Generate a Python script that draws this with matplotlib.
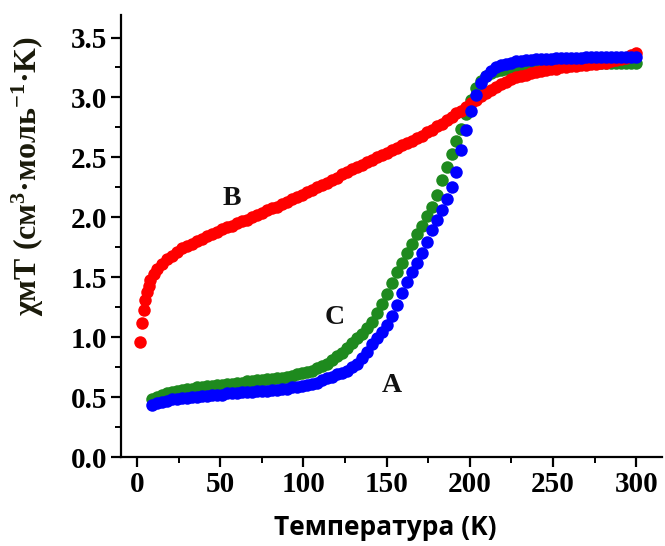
import matplotlib
matplotlib.use("Agg")
import matplotlib.pyplot as plt
from matplotlib.ticker import MultipleLocator

# temperature grid shared by curves A and C (K)
temp_ac = [9, 12, 15, 18, 21, 24, 27, 30, 33, 36, 39, 42, 45, 48, 51, 54, 57, 60,
           63, 66, 69, 72, 75, 78, 81, 84, 87, 90, 93, 96, 99, 102, 105, 108, 111,
           114, 117, 120, 123, 126, 129, 132, 135, 138, 141, 144, 147, 150, 153,
           156, 159, 162, 165, 168, 171, 174, 177, 180, 183, 186, 189, 192, 195,
           198, 201, 204, 207, 210, 213, 216, 219, 222, 225, 228, 231, 234, 237,
           240, 243, 246, 249, 252, 255, 258, 261, 264, 267, 270, 273, 276, 279,
           282, 285, 288, 291, 294, 297, 300]

chi_a = [0.43, 0.45, 0.46, 0.47, 0.48, 0.48, 0.49, 0.49, 0.50, 0.50, 0.51, 0.51,
         0.52, 0.52, 0.52, 0.53, 0.53, 0.53, 0.54, 0.54, 0.54, 0.55, 0.55, 0.55,
         0.56, 0.56, 0.57, 0.57, 0.58, 0.58, 0.59, 0.60, 0.61, 0.62, 0.64, 0.66,
         0.67, 0.69, 0.70, 0.72, 0.75, 0.78, 0.83, 0.88, 0.94, 0.99, 1.04, 1.10,
         1.18, 1.27, 1.37, 1.46, 1.54, 1.62, 1.70, 1.79, 1.89, 1.98, 2.06, 2.15,
         2.25, 2.38, 2.56, 2.73, 2.89, 3.02, 3.12, 3.18, 3.22, 3.25, 3.27, 3.28,
         3.29, 3.30, 3.30, 3.31, 3.31, 3.32, 3.32, 3.32, 3.32, 3.33, 3.33, 3.33,
         3.33, 3.33, 3.33, 3.34, 3.34, 3.34, 3.34, 3.34, 3.34, 3.34, 3.34, 3.34,
         3.34, 3.34]

chi_c = [0.48, 0.50, 0.52, 0.53, 0.54, 0.55, 0.56, 0.57, 0.57, 0.58, 0.58, 0.59,
         0.59, 0.60, 0.60, 0.61, 0.61, 0.62, 0.62, 0.63, 0.63, 0.64, 0.64, 0.65,
         0.65, 0.66, 0.66, 0.67, 0.68, 0.69, 0.70, 0.71, 0.72, 0.74, 0.76, 0.78,
         0.81, 0.84, 0.87, 0.91, 0.95, 0.99, 1.03, 1.08, 1.13, 1.20, 1.28, 1.36,
         1.45, 1.54, 1.62, 1.70, 1.78, 1.86, 1.93, 2.01, 2.09, 2.19, 2.31, 2.42,
         2.53, 2.64, 2.74, 2.86, 2.98, 3.08, 3.14, 3.18, 3.20, 3.22, 3.23, 3.24,
         3.25, 3.25, 3.26, 3.26, 3.26, 3.27, 3.27, 3.27, 3.27, 3.28, 3.28, 3.28,
         3.28, 3.28, 3.28, 3.29, 3.29, 3.29, 3.29, 3.29, 3.29, 3.29, 3.29, 3.29,
         3.29, 3.29]

temp_b = [2, 3, 4, 5, 6, 7, 8, 10, 12, 15, 18, 21, 24, 27, 30, 33, 36, 39, 42, 45,
          48, 51, 54, 57, 60, 63, 66, 69, 72, 75, 78, 81, 84, 87, 90, 93, 96, 99,
          102, 105, 108, 111, 114, 117, 120, 123, 126, 129, 132, 135, 138, 141,
          144, 147, 150, 153, 156, 159, 162, 165, 168, 171, 174, 177, 180, 183,
          186, 189, 192, 195, 198, 201, 204, 207, 210, 213, 216, 219, 222, 225,
          228, 231, 234, 237, 240, 243, 246, 249, 252, 255, 258, 261, 264, 267,
          270, 273, 276, 279, 282, 285, 288, 291, 294, 297, 300]

chi_b = [0.96, 1.12, 1.23, 1.31, 1.38, 1.43, 1.48, 1.53, 1.57, 1.61, 1.65, 1.68,
         1.71, 1.74, 1.76, 1.78, 1.80, 1.82, 1.84, 1.86, 1.88, 1.90, 1.92, 1.93,
         1.95, 1.97, 1.98, 2.00, 2.02, 2.04, 2.06, 2.08, 2.09, 2.11, 2.13, 2.15,
         2.17, 2.19, 2.21, 2.23, 2.25, 2.27, 2.29, 2.31, 2.33, 2.36, 2.38, 2.40,
         2.42, 2.44, 2.46, 2.48, 2.50, 2.52, 2.54, 2.56, 2.58, 2.60, 2.62, 2.64,
         2.66, 2.68, 2.71, 2.73, 2.76, 2.78, 2.81, 2.84, 2.87, 2.89, 2.92, 2.95,
         2.98, 3.01, 3.04, 3.06, 3.09, 3.11, 3.13, 3.15, 3.17, 3.18, 3.19, 3.20,
         3.21, 3.22, 3.23, 3.24, 3.24, 3.25, 3.25, 3.26, 3.26, 3.27, 3.27, 3.28,
         3.28, 3.29, 3.29, 3.30, 3.31, 3.32, 3.33, 3.35, 3.37]

labels = {"A": (153, 0.60), "B": (57, 2.16), "C": (119, 1.16)}

plt.rcParams['mathtext.fontset'] = 'custom'
plt.rcParams['mathtext.rm'] = 'Liberation Serif:bold'
plt.rcParams['mathtext.it'] = 'Liberation Serif:bold:italic'
plt.rcParams['mathtext.bf'] = 'Liberation Serif:bold'

fig = plt.figure(figsize=(6.65, 5.46), dpi=100)
ax = fig.add_axes([0.182, 0.163, 0.814, 0.81])

ms = 9
ax.plot(temp_ac, chi_c, 'o', color='#1e8a1e', ms=ms, mew=0)
ax.plot(temp_b, chi_b, 'o', color='#ff0000', ms=ms, mew=0)
ax.plot(temp_ac, chi_a, 'o', color='#0000ff', ms=ms, mew=0)

for name, (tx, ty) in labels.items():
    ax.text(tx, ty, name, fontsize=20, fontweight='bold', family='Liberation Serif',
            ha='center', va='center', color='#111111')

ax.set_xlim(-9.6, 315.7)
ax.set_ylim(0, 3.69)
ax.xaxis.set_major_locator(MultipleLocator(50))
ax.xaxis.set_minor_locator(MultipleLocator(25))
ax.yaxis.set_major_locator(MultipleLocator(0.5))
ax.yaxis.set_minor_locator(MultipleLocator(0.25))
ax.yaxis.set_major_formatter(plt.FormatStrFormatter('%.1f'))

for s in ['top', 'right']:
    ax.spines[s].set_visible(False)
for s in ['left', 'bottom']:
    ax.spines[s].set_linewidth(1.6)

ax.tick_params(which='major', direction='out', length=7, width=1.6, pad=3)
ax.tick_params(which='minor', direction='out', length=4, width=1.4)
for lab in ax.get_xticklabels() + ax.get_yticklabels():
    lab.set_family('Liberation Serif')
    lab.set_fontweight('bold')
    lab.set_fontsize(21)

ax.set_xlabel('Температура (K)', family='Open Sans', fontweight='bold',
              fontsize=19)
ax.xaxis.set_label_coords(0.488, -0.128)
ax.set_ylabel(r'χмT (см$^3$·моль$^{-1}$·K)', family='Liberation Serif',
              fontweight='bold', fontsize=23, color='#1a1a0a')
ax.yaxis.set_label_coords(-0.138, 0.636)

fig.savefig('out.png', dpi=100)
